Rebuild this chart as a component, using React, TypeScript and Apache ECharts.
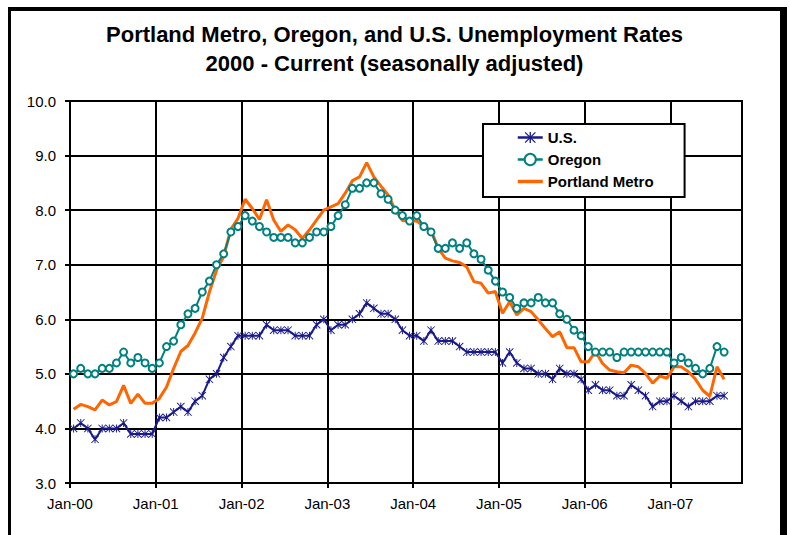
import React, { useEffect, useRef } from "react";
import * as echarts from "echarts";

// Tick labels on the horizontal (month) axis, one every 12 months from Jan-2000
const xTickLabels = ["Jan-00", "Jan-01", "Jan-02", "Jan-03", "Jan-04", "Jan-05", "Jan-06", "Jan-07"];
const tickMonths = xTickLabels.map((_, i) => i * 12);

// Monthly rates, Jan-2000 .. Aug-2007 (seasonally adjusted, %)
const usRate = [
  4.0, 4.1, 4.0, 3.8, 4.0, 4.0, 4.0, 4.1, 3.9, 3.9, 3.9, 3.9,
  4.2, 4.2, 4.3, 4.4, 4.3, 4.5, 4.6, 4.9, 5.0, 5.3, 5.5, 5.7,
  5.7, 5.7, 5.7, 5.9, 5.8, 5.8, 5.8, 5.7, 5.7, 5.7, 5.9, 6.0,
  5.8, 5.9, 5.9, 6.0, 6.1, 6.3, 6.2, 6.1, 6.1, 6.0, 5.8, 5.7,
  5.7, 5.6, 5.8, 5.6, 5.6, 5.6, 5.5, 5.4, 5.4, 5.4, 5.4, 5.4,
  5.2, 5.4, 5.2, 5.1, 5.1, 5.0, 5.0, 4.9, 5.1, 5.0, 5.0, 4.9,
  4.7, 4.8, 4.7, 4.7, 4.6, 4.6, 4.8, 4.7, 4.6, 4.4, 4.5, 4.5,
  4.6, 4.5, 4.4, 4.5, 4.5, 4.5, 4.6, 4.6,
];

const oregonRate = [
  5.0, 5.1, 5.0, 5.0, 5.1, 5.1, 5.2, 5.4, 5.2, 5.3, 5.2, 5.1,
  5.2, 5.5, 5.6, 5.9, 6.1, 6.2, 6.5, 6.7, 7.0, 7.2, 7.6, 7.7,
  7.9, 7.8, 7.7, 7.6, 7.5, 7.5, 7.5, 7.4, 7.4, 7.5, 7.6, 7.6,
  7.7, 7.9, 8.1, 8.4, 8.4, 8.5, 8.5, 8.3, 8.2, 8.0, 7.9, 7.8,
  7.9, 7.7, 7.6, 7.3, 7.3, 7.4, 7.3, 7.4, 7.2, 7.1, 6.9, 6.7,
  6.5, 6.4, 6.2, 6.3, 6.3, 6.4, 6.3, 6.3, 6.1, 6.0, 5.8, 5.7,
  5.5, 5.4, 5.4, 5.4, 5.3, 5.4, 5.4, 5.4, 5.4, 5.4, 5.4, 5.4,
  5.2, 5.3, 5.2, 5.1, 5.0, 5.1, 5.5, 5.4,
];

const portlandRate = [
  4.35, 4.44, 4.4, 4.34, 4.52, 4.43, 4.49, 4.79, 4.46, 4.63, 4.46, 4.46,
  4.55, 4.76, 5.1, 5.41, 5.52, 5.75, 6.02, 6.5, 6.9, 7.15, 7.65, 7.85,
  8.2, 8.03, 7.83, 8.19, 7.82, 7.61, 7.73, 7.64, 7.48, 7.64, 7.82, 8.0,
  8.06, 8.12, 8.31, 8.54, 8.61, 8.87, 8.61, 8.44, 8.28, 8.0, 7.81, 7.8,
  7.8, 7.7, 7.64, 7.3, 7.12, 7.07, 7.04, 6.96, 6.69, 6.66, 6.48, 6.51,
  6.11, 6.32, 6.08, 6.2, 6.14, 5.99, 5.83, 5.68, 5.77, 5.48, 5.48, 5.22,
  5.22, 5.41, 5.19, 5.07, 5.04, 5.02, 5.16, 5.13, 5.01, 4.83, 4.96, 4.92,
  5.13, 5.13, 5.04, 4.9, 4.7, 4.59, 5.13, 4.9,
];

const seriesNames = ["U.S.", "Oregon", "Portland Metro"];

// Points are dated mid-month on the month axis
const toPoints = (arr: number[]) => arr.map((v, i) => [i + 0.5, v]);

const FONT = "'Liberation Sans', Arial, Helvetica, sans-serif";
const asterisk =
  "path://M4.4 0H5.6V10H4.4Z M0.8 0L10 9.2L9.2 10L0 0.8Z M9.2 0L10 0.8L0.8 10L0 9.2Z";

export default function App() {
  const ref = useRef<HTMLDivElement>(null);

  useEffect(() => {
    if (!ref.current) return;
    const chart = echarts.init(ref.current, null, { renderer: "svg" });
    chart.setOption({
      animation: false,
      backgroundColor: "#ffffff",
      title: {
        text: "Portland Metro, Oregon, and U.S. Unemployment Rates\n2000 - Current (seasonally adjusted)",
        left: "center",
        top: 20,
        padding: 0,
        textStyle: {
          fontFamily: FONT,
          fontSize: 22,
          fontWeight: "bold",
          color: "#000",
          lineHeight: 29,
        },
      },
      legend: {
        data: [
          { name: seriesNames[0], lineStyle: { width: 2.5 } },
          { name: seriesNames[1], lineStyle: { width: 2.5 } },
          { name: seriesNames[2], itemStyle: { opacity: 0 }, lineStyle: { width: 3.5, opacity: 1 } },
        ],
        orient: "vertical",
        left: 483,
        top: 124,
        padding: [6, 31, 8, 33],
        itemGap: 7,
        itemWidth: 25,
        itemHeight: 14,
        borderColor: "#000",
        borderWidth: 2,
        backgroundColor: "#fff",
        textStyle: { fontFamily: FONT, fontSize: 15, fontWeight: "bold", color: "#000" },
      },
      graphic: [
        { type: "rect", shape: { x: 8, y: 7, width: 3, height: 528 }, style: { fill: "#000" } },
        { type: "rect", shape: { x: 8, y: 7, width: 779, height: 4 }, style: { fill: "#000" } },
        { type: "rect", shape: { x: 780, y: 7, width: 7, height: 528 }, style: { fill: "#000" } },
      ],
      grid: {
        left: 70,
        right: 47,
        top: 101,
        bottom: 52,
        show: true,
        borderColor: "#000",
        borderWidth: 2,
        containLabel: false,
      },
      xAxis: {
        type: "value",
        min: 0,
        max: 94,
        interval: 12,
        axisLine: { show: true, lineStyle: { color: "#000", width: 2 } },
        axisTick: {
          show: true,
          inside: false,
          length: 5,
          customValues: tickMonths,
          lineStyle: { color: "#000", width: 2 },
        },
        axisLabel: {
          customValues: tickMonths,
          margin: 13,
          fontFamily: FONT,
          fontSize: 15,
          color: "#000",
          formatter: (v: number) => (v % 12 === 0 ? xTickLabels[v / 12] ?? "" : ""),
        },
        splitLine: { show: true, lineStyle: { color: "#000", width: 2 } },
      },
      yAxis: {
        type: "value",
        min: 3,
        max: 10,
        interval: 1,
        axisLine: { show: true, lineStyle: { color: "#000", width: 2 } },
        axisTick: { show: true, inside: false, length: 5, lineStyle: { color: "#000", width: 2 } },
        axisLabel: {
          margin: 14,
          fontFamily: FONT,
          fontSize: 15,
          color: "#000",
          formatter: (v: number) => v.toFixed(1),
        },
        splitLine: { show: true, lineStyle: { color: "#000", width: 2 } },
      },
      series: [
        {
          name: seriesNames[2],
          type: "line",
          data: toPoints(portlandRate),
          showSymbol: false,
          symbol: "none",
          lineStyle: { color: "#ff6600", width: 3 },
          itemStyle: { color: "#ff6600" },
          z: 2,
        },
        {
          name: seriesNames[1],
          type: "line",
          data: toPoints(oregonRate),
          symbol: "emptyCircle",
          symbolSize: 7,
          lineStyle: { color: "#008080", width: 2 },
          itemStyle: { color: "#008080", borderWidth: 1.2 },
          z: 3,
        },
        {
          name: seriesNames[0],
          type: "line",
          data: toPoints(usRate),
          symbol: asterisk,
          symbolSize: 8,
          lineStyle: { color: "#1a1a8c", width: 2 },
          itemStyle: { color: "#1a1a8c" },
          z: 4,
        },
      ],
    });
    return () => chart.dispose();
  }, []);

  return (
    <div
      ref={ref}
      style={{ position: "absolute", left: 0, top: 0, width: 789, height: 535 }}
    />
  );
}
